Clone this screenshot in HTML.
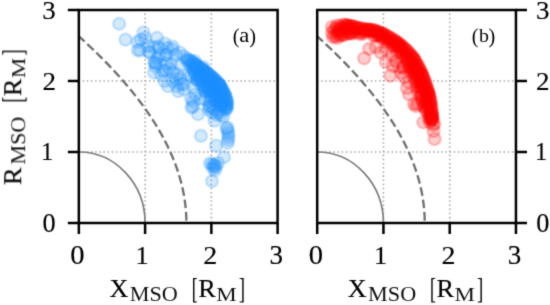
<!DOCTYPE html>
<html><head><meta charset="utf-8"><style>html,body{margin:0;padding:0;background:#fff;width:550px;height:305px;overflow:hidden}svg{display:block}</style></head>
<body><svg width="550" height="305" viewBox="0 0 550 305"><defs><filter id="gb" color-interpolation-filters="sRGB" x="0" y="0" width="550" height="305" filterUnits="userSpaceOnUse"><feConvolveMatrix order="3" kernelMatrix="0.0324 0.1800 0.0324 0.1800 1.0000 0.1800 0.0324 0.1800 0.0324" edgeMode="duplicate"/></filter><clipPath id="clipa"><rect x="78.85" y="10.0" width="198.75" height="213.0"/></clipPath><clipPath id="clipb"><rect x="317.2" y="10.0" width="198.75" height="213.0"/></clipPath></defs><g filter="url(#gb)"><rect x="0" y="0" width="550" height="305" fill="#fff"/><line x1="145.10" y1="223.00" x2="145.10" y2="10.00" stroke="#ababab" stroke-width="1.6" stroke-dasharray="1.57 2.58" stroke-dashoffset="-0.45"/>
<line x1="78.85" y1="152.00" x2="277.60" y2="152.00" stroke="#ababab" stroke-width="1.6" stroke-dasharray="1.57 2.58" stroke-dashoffset="0.4"/>
<line x1="211.35" y1="223.00" x2="211.35" y2="10.00" stroke="#ababab" stroke-width="1.6" stroke-dasharray="1.57 2.58" stroke-dashoffset="-0.45"/>
<line x1="78.85" y1="81.00" x2="277.60" y2="81.00" stroke="#ababab" stroke-width="1.6" stroke-dasharray="1.57 2.58" stroke-dashoffset="0.4"/>
<line x1="383.45" y1="223.00" x2="383.45" y2="10.00" stroke="#ababab" stroke-width="1.6" stroke-dasharray="1.57 2.58" stroke-dashoffset="-0.45"/>
<line x1="317.20" y1="152.00" x2="515.95" y2="152.00" stroke="#ababab" stroke-width="1.6" stroke-dasharray="1.57 2.58" stroke-dashoffset="0.4"/>
<line x1="449.70" y1="223.00" x2="449.70" y2="10.00" stroke="#ababab" stroke-width="1.6" stroke-dasharray="1.57 2.58" stroke-dashoffset="-0.45"/>
<line x1="317.20" y1="81.00" x2="515.95" y2="81.00" stroke="#ababab" stroke-width="1.6" stroke-dasharray="1.57 2.58" stroke-dashoffset="0.4"/>
<g fill="#1e90ff" fill-opacity="0.2" stroke="#1e90ff" stroke-opacity="0.2" stroke-width="2.4" clip-path="url(#clipa)"><circle cx="119.2" cy="23.8" r="6.1"/><circle cx="125.5" cy="39.6" r="6.1"/><circle cx="137.5" cy="42.0" r="6.1"/><circle cx="143.5" cy="32.5" r="6.1"/><circle cx="145.1" cy="38.0" r="6.1"/><circle cx="157.0" cy="37.8" r="6.1"/><circle cx="164.7" cy="43.5" r="6.1"/><circle cx="172.6" cy="46.5" r="6.1"/><circle cx="137.8" cy="50.2" r="6.1"/><circle cx="149.8" cy="52.9" r="6.1"/><circle cx="159.6" cy="48.5" r="6.1"/><circle cx="166.2" cy="55.1" r="6.1"/><circle cx="157.5" cy="58.4" r="6.1"/><circle cx="156.4" cy="63.7" r="6.1"/><circle cx="154.2" cy="72.5" r="6.1"/><circle cx="168.0" cy="86.2" r="6.1"/><circle cx="191.5" cy="107.5" r="6.1"/><circle cx="198.1" cy="114.2" r="6.1"/><circle cx="214.5" cy="120.7" r="6.1"/><circle cx="200.9" cy="135.9" r="6.1"/><circle cx="227.4" cy="127.7" r="6.1"/><circle cx="228.0" cy="131.0" r="6.1"/><circle cx="228.4" cy="134.0" r="6.1"/><circle cx="228.4" cy="137.0" r="6.1"/><circle cx="228.2" cy="140.0" r="6.1"/><circle cx="227.6" cy="143.0" r="6.1"/><circle cx="226.5" cy="128.4" r="6.1"/><circle cx="216.0" cy="145.7" r="6.1"/><circle cx="224.0" cy="157.2" r="6.1"/><circle cx="214.3" cy="165.4" r="6.1"/><circle cx="214.3" cy="165.4" r="6.1"/><circle cx="216.0" cy="167.0" r="6.1"/><circle cx="212.0" cy="164.0" r="6.1"/><circle cx="218.0" cy="163.0" r="6.1"/><circle cx="210.0" cy="163.5" r="6.1"/><circle cx="215.0" cy="170.0" r="6.1"/><circle cx="213.0" cy="168.0" r="6.1"/><circle cx="212.0" cy="181.1" r="6.1"/><circle cx="187.4" cy="61.4" r="6.1"/><circle cx="193.5" cy="64.0" r="6.1"/><circle cx="190.3" cy="65.7" r="6.1"/><circle cx="194.0" cy="67.4" r="6.1"/><circle cx="196.2" cy="66.3" r="6.1"/><circle cx="192.8" cy="69.3" r="6.1"/><circle cx="196.3" cy="67.8" r="6.1"/><circle cx="199.9" cy="69.7" r="6.1"/><circle cx="202.8" cy="69.8" r="6.1"/><circle cx="193.9" cy="70.6" r="6.1"/><circle cx="198.2" cy="72.9" r="6.1"/><circle cx="200.2" cy="71.5" r="6.1"/><circle cx="202.2" cy="70.5" r="6.1"/><circle cx="195.3" cy="73.4" r="6.1"/><circle cx="199.6" cy="75.5" r="6.1"/><circle cx="202.8" cy="75.0" r="6.1"/><circle cx="205.7" cy="74.8" r="6.1"/><circle cx="207.1" cy="74.2" r="6.1"/><circle cx="198.2" cy="76.7" r="6.1"/><circle cx="200.7" cy="77.6" r="6.1"/><circle cx="202.2" cy="77.2" r="6.1"/><circle cx="207.4" cy="77.5" r="6.1"/><circle cx="210.0" cy="76.7" r="6.1"/><circle cx="211.4" cy="77.6" r="6.1"/><circle cx="197.1" cy="79.8" r="6.1"/><circle cx="198.4" cy="79.5" r="6.1"/><circle cx="200.8" cy="78.1" r="6.1"/><circle cx="206.1" cy="79.8" r="6.1"/><circle cx="207.9" cy="80.6" r="6.1"/><circle cx="210.6" cy="80.4" r="6.1"/><circle cx="200.4" cy="80.7" r="6.1"/><circle cx="203.1" cy="81.1" r="6.1"/><circle cx="205.0" cy="82.8" r="6.1"/><circle cx="208.4" cy="81.9" r="6.1"/><circle cx="212.9" cy="82.1" r="6.1"/><circle cx="214.8" cy="82.0" r="6.1"/><circle cx="201.7" cy="84.7" r="6.1"/><circle cx="204.7" cy="85.8" r="6.1"/><circle cx="208.3" cy="85.6" r="6.1"/><circle cx="212.0" cy="83.9" r="6.1"/><circle cx="214.0" cy="85.8" r="6.1"/><circle cx="217.7" cy="83.6" r="6.1"/><circle cx="218.8" cy="84.4" r="6.1"/><circle cx="203.0" cy="87.1" r="6.1"/><circle cx="207.6" cy="88.1" r="6.1"/><circle cx="208.4" cy="87.0" r="6.1"/><circle cx="212.3" cy="86.7" r="6.1"/><circle cx="214.5" cy="86.7" r="6.1"/><circle cx="218.9" cy="85.9" r="6.1"/><circle cx="204.6" cy="90.9" r="6.1"/><circle cx="208.7" cy="89.1" r="6.1"/><circle cx="209.9" cy="90.9" r="6.1"/><circle cx="214.0" cy="90.3" r="6.1"/><circle cx="215.7" cy="88.6" r="6.1"/><circle cx="220.3" cy="89.6" r="6.1"/><circle cx="221.6" cy="91.0" r="6.1"/><circle cx="205.2" cy="91.5" r="6.1"/><circle cx="208.1" cy="91.6" r="6.1"/><circle cx="211.8" cy="91.8" r="6.1"/><circle cx="216.0" cy="91.8" r="6.1"/><circle cx="218.3" cy="91.5" r="6.1"/><circle cx="220.9" cy="91.1" r="6.1"/><circle cx="211.4" cy="95.3" r="6.1"/><circle cx="213.5" cy="94.6" r="6.1"/><circle cx="215.6" cy="94.0" r="6.1"/><circle cx="218.6" cy="95.6" r="6.1"/><circle cx="222.1" cy="94.1" r="6.1"/><circle cx="224.7" cy="95.9" r="6.1"/><circle cx="211.0" cy="97.3" r="6.1"/><circle cx="215.2" cy="97.6" r="6.1"/><circle cx="217.5" cy="97.6" r="6.1"/><circle cx="220.0" cy="96.9" r="6.1"/><circle cx="223.2" cy="97.3" r="6.1"/><circle cx="214.9" cy="100.5" r="6.1"/><circle cx="217.4" cy="101.0" r="6.1"/><circle cx="218.8" cy="100.2" r="6.1"/><circle cx="222.8" cy="101.1" r="6.1"/><circle cx="226.6" cy="101.1" r="6.1"/><circle cx="218.7" cy="101.6" r="6.1"/><circle cx="221.9" cy="102.1" r="6.1"/><circle cx="223.2" cy="102.1" r="6.1"/><circle cx="220.3" cy="104.8" r="6.1"/><circle cx="222.8" cy="105.3" r="6.1"/><circle cx="225.7" cy="104.3" r="6.1"/><circle cx="224.3" cy="106.7" r="6.1"/><circle cx="186.8" cy="58.6" r="6.1"/><circle cx="226.5" cy="108.9" r="6.1"/><circle cx="226.9" cy="107.3" r="6.1"/><circle cx="227.1" cy="105.7" r="6.1"/><circle cx="227.0" cy="104.1" r="6.1"/><circle cx="226.9" cy="102.5" r="6.1"/><circle cx="226.7" cy="100.9" r="6.1"/><circle cx="226.3" cy="99.4" r="6.1"/><circle cx="225.8" cy="97.8" r="6.1"/><circle cx="225.4" cy="96.2" r="6.1"/><circle cx="224.9" cy="94.7" r="6.1"/><circle cx="224.2" cy="93.3" r="6.1"/><circle cx="223.4" cy="91.8" r="6.1"/><circle cx="222.7" cy="90.4" r="6.1"/><circle cx="221.9" cy="89.0" r="6.1"/><circle cx="221.2" cy="87.5" r="6.1"/><circle cx="220.5" cy="86.1" r="6.1"/><circle cx="219.5" cy="84.8" r="6.1"/><circle cx="218.4" cy="83.6" r="6.1"/><circle cx="217.4" cy="82.4" r="6.1"/><circle cx="216.3" cy="81.1" r="6.1"/><circle cx="215.2" cy="79.9" r="6.1"/><circle cx="214.0" cy="78.8" r="6.1"/><circle cx="212.8" cy="77.8" r="6.1"/><circle cx="211.6" cy="76.7" r="6.1"/><circle cx="210.3" cy="75.7" r="6.1"/><circle cx="209.1" cy="74.6" r="6.1"/><circle cx="207.9" cy="73.6" r="6.1"/><circle cx="206.6" cy="72.6" r="6.1"/><circle cx="205.3" cy="71.7" r="6.1"/><circle cx="204.0" cy="70.7" r="6.1"/><circle cx="202.7" cy="69.7" r="6.1"/><circle cx="201.4" cy="68.7" r="6.1"/><circle cx="200.1" cy="67.7" r="6.1"/><circle cx="198.8" cy="66.8" r="6.1"/><circle cx="197.5" cy="65.8" r="6.1"/><circle cx="196.2" cy="64.9" r="6.1"/><circle cx="194.8" cy="64.0" r="6.1"/><circle cx="193.5" cy="63.1" r="6.1"/><circle cx="192.2" cy="62.2" r="6.1"/><circle cx="190.8" cy="61.3" r="6.1"/><circle cx="189.5" cy="60.4" r="6.1"/><circle cx="188.2" cy="59.5" r="6.1"/><circle cx="140.8" cy="39.7" r="6.1"/><circle cx="148.0" cy="45.8" r="6.1"/><circle cx="158.1" cy="46.6" r="6.1"/><circle cx="140.0" cy="50.3" r="6.1"/><circle cx="148.8" cy="51.7" r="6.1"/><circle cx="153.8" cy="47.1" r="6.1"/><circle cx="167.3" cy="47.7" r="6.1"/><circle cx="172.4" cy="49.4" r="6.1"/><circle cx="179.7" cy="52.5" r="6.1"/><circle cx="154.3" cy="61.9" r="6.1"/><circle cx="159.3" cy="55.3" r="6.1"/><circle cx="165.9" cy="54.9" r="6.1"/><circle cx="175.7" cy="54.9" r="6.1"/><circle cx="183.5" cy="56.2" r="6.1"/><circle cx="194.7" cy="61.1" r="6.1"/><circle cx="155.5" cy="66.5" r="6.1"/><circle cx="166.8" cy="63.3" r="6.1"/><circle cx="170.9" cy="63.6" r="6.1"/><circle cx="180.5" cy="65.1" r="6.1"/><circle cx="193.3" cy="68.2" r="6.1"/><circle cx="203.4" cy="67.1" r="6.1"/><circle cx="163.4" cy="71.0" r="6.1"/><circle cx="165.3" cy="70.3" r="6.1"/><circle cx="177.1" cy="74.4" r="6.1"/><circle cx="188.9" cy="74.7" r="6.1"/><circle cx="195.3" cy="75.0" r="6.1"/><circle cx="202.4" cy="73.4" r="6.1"/><circle cx="207.8" cy="75.2" r="6.1"/><circle cx="172.8" cy="81.1" r="6.1"/><circle cx="180.4" cy="78.3" r="6.1"/><circle cx="190.6" cy="76.6" r="6.1"/><circle cx="196.9" cy="80.1" r="6.1"/><circle cx="210.6" cy="81.5" r="6.1"/><circle cx="178.2" cy="91.2" r="6.1"/><circle cx="183.4" cy="84.3" r="6.1"/><circle cx="192.9" cy="87.3" r="6.1"/><circle cx="204.1" cy="85.5" r="6.1"/><circle cx="213.6" cy="89.7" r="6.1"/><circle cx="220.0" cy="85.6" r="6.1"/><circle cx="191.1" cy="98.8" r="6.1"/><circle cx="195.7" cy="94.5" r="6.1"/><circle cx="204.8" cy="99.0" r="6.1"/><circle cx="212.9" cy="91.8" r="6.1"/><circle cx="220.8" cy="94.5" r="6.1"/><circle cx="193.1" cy="101.5" r="6.1"/><circle cx="200.2" cy="98.9" r="6.1"/><circle cx="209.6" cy="101.6" r="6.1"/><circle cx="223.5" cy="99.9" r="6.1"/><circle cx="192.9" cy="106.6" r="6.1"/><circle cx="209.1" cy="106.7" r="6.1"/><circle cx="212.0" cy="106.8" r="6.1"/><circle cx="155.0" cy="63.1" r="6.1"/><circle cx="169.1" cy="68.4" r="6.1"/><circle cx="161.1" cy="74.7" r="6.1"/><circle cx="173.4" cy="72.3" r="6.1"/><circle cx="164.5" cy="81.1" r="6.1"/><circle cx="176.5" cy="78.9" r="6.1"/><circle cx="180.6" cy="84.1" r="6.1"/><circle cx="176.8" cy="86.3" r="6.1"/><circle cx="184.1" cy="89.5" r="6.1"/><circle cx="209.7" cy="105.9" r="6.1"/><circle cx="213.9" cy="108.9" r="6.1"/><circle cx="219.4" cy="105.5" r="6.1"/><circle cx="225.8" cy="107.4" r="6.1"/><circle cx="209.1" cy="109.3" r="6.1"/><circle cx="211.8" cy="112.5" r="6.1"/><circle cx="218.4" cy="112.9" r="6.1"/><circle cx="219.8" cy="110.1" r="6.1"/><circle cx="225.2" cy="109.7" r="6.1"/><circle cx="216.3" cy="114.8" r="6.1"/><circle cx="221.0" cy="115.2" r="6.1"/><circle cx="223.3" cy="116.6" r="6.1"/></g>
<g fill="#ff0000" fill-opacity="0.2" stroke="#ff0000" stroke-opacity="0.2" stroke-width="2.4" clip-path="url(#clipb)"><circle cx="364.2" cy="58.3" r="6.1"/><circle cx="369.3" cy="48.8" r="6.1"/><circle cx="380.9" cy="52.5" r="6.1"/><circle cx="390.4" cy="75.6" r="6.1"/><circle cx="386.0" cy="62.0" r="6.1"/><circle cx="402.9" cy="68.0" r="6.1"/><circle cx="403.3" cy="66.6" r="6.1"/><circle cx="408.4" cy="81.9" r="6.1"/><circle cx="409.1" cy="94.3" r="6.1"/><circle cx="386.0" cy="49.0" r="6.1"/><circle cx="392.0" cy="55.0" r="6.1"/><circle cx="396.0" cy="61.0" r="6.1"/><circle cx="399.0" cy="67.0" r="6.1"/><circle cx="401.0" cy="73.0" r="6.1"/><circle cx="393.0" cy="66.0" r="6.1"/><circle cx="376.0" cy="47.0" r="6.1"/><circle cx="397.0" cy="53.0" r="6.1"/><circle cx="404.0" cy="77.0" r="6.1"/><circle cx="407.0" cy="88.0" r="6.1"/><circle cx="423.4" cy="122.3" r="6.1"/><circle cx="433.5" cy="131.0" r="6.1"/><circle cx="434.6" cy="139.0" r="6.1"/><circle cx="434.3" cy="123.7" r="6.1"/><circle cx="431.0" cy="117.0" r="6.1"/><circle cx="432.0" cy="120.0" r="6.1"/><circle cx="430.0" cy="122.0" r="6.1"/><circle cx="433.0" cy="125.0" r="6.1"/><circle cx="431.0" cy="119.0" r="6.1"/><circle cx="432.0" cy="116.0" r="6.1"/><circle cx="429.0" cy="119.0" r="6.1"/><circle cx="414.0" cy="104.0" r="6.1"/><circle cx="416.0" cy="106.0" r="6.1"/><circle cx="418.0" cy="104.0" r="6.1"/><circle cx="332.0" cy="33.0" r="6.1"/><circle cx="333.0" cy="37.0" r="6.1"/><circle cx="335.0" cy="36.0" r="6.1"/><circle cx="332.0" cy="27.0" r="6.1"/><circle cx="334.0" cy="30.0" r="6.1"/><circle cx="337.0" cy="38.0" r="6.1"/><circle cx="340.0" cy="36.0" r="6.1"/><circle cx="344.0" cy="35.0" r="6.1"/><circle cx="337.0" cy="25.6" r="6.1"/><circle cx="339.9" cy="25.8" r="6.1"/><circle cx="341.9" cy="27.5" r="6.1"/><circle cx="346.1" cy="25.7" r="6.1"/><circle cx="347.4" cy="26.3" r="6.1"/><circle cx="351.2" cy="26.2" r="6.1"/><circle cx="335.8" cy="28.2" r="6.1"/><circle cx="338.4" cy="30.3" r="6.1"/><circle cx="339.5" cy="28.7" r="6.1"/><circle cx="344.4" cy="28.2" r="6.1"/><circle cx="347.7" cy="28.5" r="6.1"/><circle cx="350.5" cy="28.2" r="6.1"/><circle cx="352.7" cy="30.3" r="6.1"/><circle cx="354.9" cy="28.5" r="6.1"/><circle cx="358.7" cy="28.6" r="6.1"/><circle cx="363.8" cy="30.3" r="6.1"/><circle cx="368.2" cy="30.2" r="6.1"/><circle cx="369.8" cy="29.9" r="6.1"/><circle cx="338.1" cy="31.3" r="6.1"/><circle cx="341.4" cy="32.0" r="6.1"/><circle cx="345.4" cy="30.9" r="6.1"/><circle cx="348.5" cy="31.7" r="6.1"/><circle cx="350.2" cy="32.9" r="6.1"/><circle cx="353.5" cy="30.8" r="6.1"/><circle cx="356.1" cy="32.1" r="6.1"/><circle cx="361.2" cy="32.5" r="6.1"/><circle cx="362.9" cy="31.1" r="6.1"/><circle cx="364.8" cy="32.1" r="6.1"/><circle cx="369.3" cy="31.3" r="6.1"/><circle cx="372.6" cy="31.6" r="6.1"/><circle cx="376.3" cy="32.4" r="6.1"/><circle cx="377.5" cy="32.8" r="6.1"/><circle cx="337.8" cy="34.2" r="6.1"/><circle cx="341.4" cy="34.4" r="6.1"/><circle cx="343.0" cy="34.7" r="6.1"/><circle cx="347.9" cy="33.6" r="6.1"/><circle cx="350.7" cy="33.0" r="6.1"/><circle cx="352.0" cy="33.6" r="6.1"/><circle cx="359.3" cy="33.9" r="6.1"/><circle cx="362.7" cy="33.9" r="6.1"/><circle cx="373.6" cy="35.2" r="6.1"/><circle cx="377.2" cy="35.3" r="6.1"/><circle cx="379.5" cy="34.9" r="6.1"/><circle cx="382.9" cy="33.8" r="6.1"/><circle cx="375.3" cy="36.2" r="6.1"/><circle cx="379.1" cy="35.8" r="6.1"/><circle cx="382.0" cy="36.0" r="6.1"/><circle cx="382.8" cy="36.1" r="6.1"/><circle cx="387.9" cy="38.2" r="6.1"/><circle cx="382.7" cy="38.6" r="6.1"/><circle cx="385.2" cy="38.7" r="6.1"/><circle cx="390.0" cy="40.1" r="6.1"/><circle cx="390.6" cy="40.8" r="6.1"/><circle cx="388.4" cy="42.2" r="6.1"/><circle cx="389.1" cy="42.3" r="6.1"/><circle cx="393.3" cy="42.7" r="6.1"/><circle cx="396.2" cy="42.5" r="6.1"/><circle cx="392.8" cy="45.7" r="6.1"/><circle cx="393.5" cy="45.6" r="6.1"/><circle cx="398.8" cy="45.5" r="6.1"/><circle cx="399.7" cy="45.6" r="6.1"/><circle cx="397.2" cy="46.1" r="6.1"/><circle cx="399.8" cy="47.7" r="6.1"/><circle cx="401.7" cy="48.3" r="6.1"/><circle cx="399.5" cy="50.1" r="6.1"/><circle cx="402.4" cy="48.9" r="6.1"/><circle cx="399.5" cy="52.3" r="6.1"/><circle cx="401.9" cy="53.3" r="6.1"/><circle cx="406.4" cy="53.3" r="6.1"/><circle cx="402.8" cy="55.7" r="6.1"/><circle cx="406.3" cy="55.3" r="6.1"/><circle cx="409.4" cy="55.2" r="6.1"/><circle cx="405.6" cy="59.0" r="6.1"/><circle cx="407.0" cy="56.7" r="6.1"/><circle cx="411.9" cy="58.9" r="6.1"/><circle cx="408.0" cy="61.5" r="6.1"/><circle cx="408.6" cy="59.7" r="6.1"/><circle cx="413.7" cy="59.1" r="6.1"/><circle cx="407.7" cy="63.5" r="6.1"/><circle cx="410.8" cy="63.6" r="6.1"/><circle cx="413.0" cy="63.9" r="6.1"/><circle cx="410.0" cy="65.1" r="6.1"/><circle cx="412.8" cy="64.3" r="6.1"/><circle cx="415.5" cy="65.5" r="6.1"/><circle cx="409.1" cy="67.4" r="6.1"/><circle cx="411.3" cy="68.1" r="6.1"/><circle cx="413.6" cy="69.4" r="6.1"/><circle cx="416.6" cy="68.8" r="6.1"/><circle cx="410.6" cy="71.6" r="6.1"/><circle cx="413.9" cy="69.9" r="6.1"/><circle cx="415.5" cy="71.8" r="6.1"/><circle cx="417.3" cy="69.5" r="6.1"/><circle cx="415.1" cy="73.5" r="6.1"/><circle cx="417.6" cy="72.5" r="6.1"/><circle cx="420.2" cy="73.4" r="6.1"/><circle cx="413.9" cy="75.3" r="6.1"/><circle cx="415.8" cy="74.9" r="6.1"/><circle cx="418.8" cy="75.6" r="6.1"/><circle cx="421.4" cy="74.7" r="6.1"/><circle cx="413.6" cy="77.3" r="6.1"/><circle cx="416.7" cy="77.8" r="6.1"/><circle cx="419.2" cy="79.1" r="6.1"/><circle cx="422.6" cy="78.2" r="6.1"/><circle cx="416.9" cy="80.9" r="6.1"/><circle cx="419.8" cy="81.6" r="6.1"/><circle cx="422.3" cy="82.0" r="6.1"/><circle cx="416.0" cy="82.4" r="6.1"/><circle cx="421.5" cy="84.4" r="6.1"/><circle cx="422.0" cy="84.3" r="6.1"/><circle cx="416.6" cy="87.2" r="6.1"/><circle cx="419.4" cy="86.1" r="6.1"/><circle cx="421.1" cy="86.7" r="6.1"/><circle cx="424.7" cy="86.1" r="6.1"/><circle cx="420.4" cy="87.7" r="6.1"/><circle cx="422.9" cy="87.7" r="6.1"/><circle cx="426.0" cy="89.9" r="6.1"/><circle cx="418.1" cy="92.0" r="6.1"/><circle cx="421.3" cy="90.5" r="6.1"/><circle cx="425.7" cy="91.6" r="6.1"/><circle cx="428.2" cy="92.3" r="6.1"/><circle cx="421.4" cy="94.6" r="6.1"/><circle cx="422.6" cy="94.8" r="6.1"/><circle cx="426.8" cy="94.1" r="6.1"/><circle cx="420.8" cy="96.8" r="6.1"/><circle cx="425.7" cy="97.1" r="6.1"/><circle cx="428.8" cy="95.9" r="6.1"/><circle cx="422.0" cy="99.3" r="6.1"/><circle cx="426.3" cy="98.4" r="6.1"/><circle cx="422.6" cy="101.0" r="6.1"/><circle cx="425.7" cy="103.2" r="6.1"/><circle cx="427.1" cy="100.6" r="6.1"/><circle cx="429.6" cy="103.2" r="6.1"/><circle cx="423.7" cy="105.8" r="6.1"/><circle cx="427.2" cy="105.1" r="6.1"/><circle cx="428.9" cy="104.0" r="6.1"/><circle cx="424.6" cy="107.4" r="6.1"/><circle cx="428.6" cy="108.1" r="6.1"/><circle cx="425.8" cy="110.1" r="6.1"/><circle cx="428.7" cy="108.5" r="6.1"/><circle cx="426.9" cy="111.1" r="6.1"/><circle cx="430.8" cy="111.9" r="6.1"/><circle cx="429.3" cy="113.9" r="6.1"/><circle cx="429.7" cy="117.7" r="6.1"/><circle cx="431.9" cy="119.4" r="6.1"/><circle cx="432.5" cy="119.0" r="6.1"/><circle cx="432.3" cy="117.2" r="6.1"/><circle cx="432.1" cy="115.4" r="6.1"/><circle cx="431.9" cy="113.6" r="6.1"/><circle cx="431.7" cy="111.8" r="6.1"/><circle cx="431.5" cy="110.0" r="6.1"/><circle cx="431.3" cy="108.2" r="6.1"/><circle cx="431.1" cy="106.4" r="6.1"/><circle cx="430.9" cy="104.6" r="6.1"/><circle cx="430.6" cy="102.8" r="6.1"/><circle cx="430.4" cy="101.0" r="6.1"/><circle cx="430.1" cy="99.3" r="6.1"/><circle cx="429.7" cy="97.5" r="6.1"/><circle cx="429.2" cy="95.8" r="6.1"/><circle cx="428.7" cy="94.0" r="6.1"/><circle cx="428.2" cy="92.3" r="6.1"/><circle cx="427.7" cy="90.6" r="6.1"/><circle cx="427.2" cy="88.8" r="6.1"/><circle cx="426.7" cy="87.1" r="6.1"/><circle cx="426.1" cy="85.4" r="6.1"/><circle cx="425.5" cy="83.7" r="6.1"/><circle cx="425.0" cy="82.0" r="6.1"/><circle cx="424.4" cy="80.3" r="6.1"/><circle cx="423.7" cy="78.6" r="6.1"/><circle cx="423.0" cy="76.9" r="6.1"/><circle cx="422.4" cy="75.2" r="6.1"/><circle cx="421.7" cy="73.6" r="6.1"/><circle cx="420.9" cy="71.9" r="6.1"/><circle cx="420.1" cy="70.3" r="6.1"/><circle cx="419.4" cy="68.7" r="6.1"/><circle cx="418.6" cy="67.0" r="6.1"/><circle cx="417.7" cy="65.5" r="6.1"/><circle cx="416.8" cy="63.9" r="6.1"/><circle cx="415.9" cy="62.3" r="6.1"/><circle cx="415.0" cy="60.8" r="6.1"/><circle cx="414.1" cy="59.2" r="6.1"/><circle cx="413.2" cy="57.7" r="6.1"/><circle cx="412.0" cy="56.3" r="6.1"/><circle cx="410.8" cy="55.0" r="6.1"/><circle cx="409.6" cy="53.6" r="6.1"/><circle cx="408.4" cy="52.3" r="6.1"/><circle cx="407.2" cy="50.9" r="6.1"/><circle cx="405.9" cy="49.7" r="6.1"/><circle cx="404.5" cy="48.5" r="6.1"/><circle cx="403.2" cy="47.3" r="6.1"/><circle cx="401.9" cy="46.0" r="6.1"/><circle cx="400.5" cy="44.8" r="6.1"/><circle cx="399.1" cy="43.7" r="6.1"/><circle cx="397.6" cy="42.7" r="6.1"/><circle cx="396.2" cy="41.6" r="6.1"/><circle cx="394.7" cy="40.6" r="6.1"/><circle cx="393.2" cy="39.6" r="6.1"/><circle cx="391.6" cy="38.7" r="6.1"/><circle cx="390.1" cy="37.7" r="6.1"/><circle cx="388.5" cy="36.8" r="6.1"/><circle cx="386.9" cy="36.0" r="6.1"/><circle cx="385.4" cy="35.1" r="6.1"/><circle cx="383.8" cy="34.2" r="6.1"/><circle cx="382.1" cy="33.5" r="6.1"/><circle cx="380.5" cy="32.8" r="6.1"/><circle cx="378.8" cy="32.1" r="6.1"/><circle cx="377.1" cy="31.4" r="6.1"/><circle cx="375.5" cy="30.7" r="6.1"/><circle cx="373.8" cy="30.1" r="6.1"/><circle cx="372.0" cy="29.9" r="6.1"/><circle cx="370.2" cy="29.7" r="6.1"/><circle cx="368.4" cy="29.5" r="6.1"/><circle cx="366.6" cy="29.3" r="6.1"/><circle cx="364.8" cy="29.1" r="6.1"/><circle cx="363.0" cy="28.9" r="6.1"/><circle cx="361.2" cy="28.6" r="6.1"/><circle cx="359.5" cy="28.2" r="6.1"/><circle cx="357.7" cy="27.7" r="6.1"/><circle cx="356.0" cy="27.3" r="6.1"/><circle cx="354.2" cy="26.8" r="6.1"/><circle cx="352.5" cy="26.4" r="6.1"/><circle cx="350.7" cy="26.0" r="6.1"/><circle cx="349.0" cy="25.7" r="6.1"/><circle cx="347.2" cy="25.3" r="6.1"/><circle cx="345.4" cy="24.9" r="6.1"/><circle cx="343.6" cy="24.7" r="6.1"/></g>
<path d="M78.85,152.00 A66.25,71.00 0 0 1 145.10,223.00" fill="none" stroke="#7e7e7e" stroke-width="1.7"/>
<path d="M186.38,223.00 L186.38,222.38 L186.38,221.76 L186.37,221.14 L186.36,220.52 L186.35,219.90 L186.34,219.28 L186.32,218.66 L186.30,218.04 L186.28,217.41 L186.26,216.79 L186.23,216.17 L186.20,215.55 L186.17,214.93 L186.14,214.30 L186.10,213.68 L186.06,213.06 L186.02,212.43 L185.98,211.81 L185.93,211.18 L185.89,210.56 L185.83,209.93 L185.78,209.31 L185.72,208.68 L185.67,208.05 L185.60,207.43 L185.54,206.80 L185.47,206.17 L185.40,205.54 L185.33,204.91 L185.26,204.28 L185.18,203.64 L185.10,203.01 L185.02,202.38 L184.93,201.74 L184.85,201.11 L184.76,200.47 L184.66,199.83 L184.57,199.19 L184.47,198.55 L184.37,197.91 L184.26,197.27 L184.15,196.63 L184.04,195.99 L183.93,195.34 L183.82,194.69 L183.70,194.05 L183.58,193.40 L183.45,192.75 L183.32,192.10 L183.19,191.45 L183.06,190.79 L182.92,190.14 L182.78,189.48 L182.64,188.82 L182.50,188.16 L182.35,187.50 L182.20,186.84 L182.04,186.17 L181.88,185.51 L181.72,184.84 L181.56,184.17 L181.39,183.50 L181.22,182.83 L181.04,182.15 L180.87,181.48 L180.69,180.80 L180.50,180.12 L180.31,179.44 L180.12,178.76 L179.93,178.07 L179.73,177.38 L179.53,176.69 L179.32,176.00 L179.11,175.31 L178.90,174.61 L178.68,173.91 L178.46,173.21 L178.23,172.51 L178.01,171.80 L177.77,171.09 L177.54,170.38 L177.30,169.67 L177.05,168.95 L176.80,168.24 L176.55,167.52 L176.29,166.79 L176.03,166.07 L175.77,165.34 L175.50,164.61 L175.22,163.87 L174.94,163.14 L174.66,162.40 L174.37,161.65 L174.08,160.91 L173.78,160.16 L173.48,159.41 L173.17,158.65 L172.86,157.89 L172.55,157.13 L172.22,156.37 L171.90,155.60 L171.56,154.83 L171.23,154.05 L170.89,153.27 L170.54,152.49 L170.18,151.70 L169.83,150.91 L169.46,150.12 L169.09,149.32 L168.71,148.52 L168.33,147.71 L167.95,146.90 L167.55,146.09 L167.15,145.27 L166.75,144.45 L166.33,143.62 L165.91,142.79 L165.49,141.96 L165.06,141.12 L164.62,140.27 L164.17,139.42 L163.72,138.57 L163.26,137.71 L162.79,136.85 L162.32,135.98 L161.84,135.11 L161.35,134.23 L160.85,133.34 L160.35,132.45 L159.84,131.56 L159.32,130.66 L158.79,129.75 L158.25,128.84 L157.71,127.93 L157.15,127.00 L156.59,126.07 L156.02,125.14 L155.44,124.20 L154.85,123.25 L154.25,122.30 L153.64,121.34 L153.03,120.37 L152.40,119.40 L151.76,118.42 L151.11,117.43 L150.45,116.44 L149.78,115.44 L149.10,114.43 L148.41,113.41 L147.71,112.39 L146.99,111.36 L146.27,110.32 L145.53,109.27 L144.78,108.22 L144.02,107.15 L143.24,106.08 L142.45,105.00 L141.65,103.91 L140.84,102.82 L140.01,101.71 L139.16,100.59 L138.31,99.47 L137.44,98.34 L136.55,97.19 L135.65,96.04 L134.73,94.88 L133.80,93.70 L132.85,92.52 L131.88,91.32 L130.90,90.12 L129.90,88.90 L128.88,87.68 L127.85,86.44 L126.79,85.19 L125.72,83.92 L124.62,82.65 L123.51,81.36 L122.38,80.07 L121.23,78.75 L120.05,77.43 L118.86,76.09 L117.64,74.74 L116.40,73.38 L115.13,72.00 L113.84,70.60 L112.53,69.19 L111.19,67.77 L109.83,66.33 L108.44,64.88 L107.02,63.41 L105.58,61.92 L104.11,60.42 L102.61,58.90 L101.07,57.36 L99.51,55.81 L97.92,54.24 L96.29,52.64 L94.64,51.03 L92.95,49.40 L91.22,47.75 L89.46,46.09 L87.66,44.39 L85.82,42.68 L83.94,40.95 L82.03,39.19 L80.07,37.42 L78.07,35.62 L76.03,33.79 L73.95,31.94" fill="none" stroke="#717171" stroke-width="2.35" stroke-dasharray="8.7 3.757" stroke-dashoffset="10.067" clip-path="url(#clipa)"/>
<path d="M317.20,152.00 A66.25,71.00 0 0 1 383.45,223.00" fill="none" stroke="#7e7e7e" stroke-width="1.7"/>
<path d="M424.73,223.00 L424.73,222.38 L424.73,221.76 L424.72,221.14 L424.71,220.52 L424.70,219.90 L424.69,219.28 L424.67,218.66 L424.65,218.04 L424.63,217.41 L424.61,216.79 L424.58,216.17 L424.55,215.55 L424.52,214.93 L424.49,214.30 L424.45,213.68 L424.41,213.06 L424.37,212.43 L424.33,211.81 L424.28,211.18 L424.24,210.56 L424.18,209.93 L424.13,209.31 L424.07,208.68 L424.02,208.05 L423.95,207.43 L423.89,206.80 L423.82,206.17 L423.75,205.54 L423.68,204.91 L423.61,204.28 L423.53,203.64 L423.45,203.01 L423.37,202.38 L423.28,201.74 L423.20,201.11 L423.11,200.47 L423.01,199.83 L422.92,199.19 L422.82,198.55 L422.72,197.91 L422.61,197.27 L422.50,196.63 L422.39,195.99 L422.28,195.34 L422.17,194.69 L422.05,194.05 L421.93,193.40 L421.80,192.75 L421.67,192.10 L421.54,191.45 L421.41,190.79 L421.27,190.14 L421.13,189.48 L420.99,188.82 L420.85,188.16 L420.70,187.50 L420.55,186.84 L420.39,186.17 L420.23,185.51 L420.07,184.84 L419.91,184.17 L419.74,183.50 L419.57,182.83 L419.39,182.15 L419.22,181.48 L419.04,180.80 L418.85,180.12 L418.66,179.44 L418.47,178.76 L418.28,178.07 L418.08,177.38 L417.88,176.69 L417.67,176.00 L417.46,175.31 L417.25,174.61 L417.03,173.91 L416.81,173.21 L416.58,172.51 L416.36,171.80 L416.12,171.09 L415.89,170.38 L415.65,169.67 L415.40,168.95 L415.15,168.24 L414.90,167.52 L414.64,166.79 L414.38,166.07 L414.12,165.34 L413.85,164.61 L413.57,163.87 L413.29,163.14 L413.01,162.40 L412.72,161.65 L412.43,160.91 L412.13,160.16 L411.83,159.41 L411.52,158.65 L411.21,157.89 L410.90,157.13 L410.57,156.37 L410.25,155.60 L409.91,154.83 L409.58,154.05 L409.24,153.27 L408.89,152.49 L408.53,151.70 L408.18,150.91 L407.81,150.12 L407.44,149.32 L407.06,148.52 L406.68,147.71 L406.30,146.90 L405.90,146.09 L405.50,145.27 L405.10,144.45 L404.68,143.62 L404.26,142.79 L403.84,141.96 L403.41,141.12 L402.97,140.27 L402.52,139.42 L402.07,138.57 L401.61,137.71 L401.14,136.85 L400.67,135.98 L400.19,135.11 L399.70,134.23 L399.20,133.34 L398.70,132.45 L398.19,131.56 L397.67,130.66 L397.14,129.75 L396.60,128.84 L396.06,127.93 L395.50,127.00 L394.94,126.07 L394.37,125.14 L393.79,124.20 L393.20,123.25 L392.60,122.30 L391.99,121.34 L391.38,120.37 L390.75,119.40 L390.11,118.42 L389.46,117.43 L388.80,116.44 L388.13,115.44 L387.45,114.43 L386.76,113.41 L386.06,112.39 L385.34,111.36 L384.62,110.32 L383.88,109.27 L383.13,108.22 L382.37,107.15 L381.59,106.08 L380.80,105.00 L380.00,103.91 L379.19,102.82 L378.36,101.71 L377.51,100.59 L376.66,99.47 L375.79,98.34 L374.90,97.19 L374.00,96.04 L373.08,94.88 L372.15,93.70 L371.20,92.52 L370.23,91.32 L369.25,90.12 L368.25,88.90 L367.23,87.68 L366.20,86.44 L365.14,85.19 L364.07,83.92 L362.97,82.65 L361.86,81.36 L360.73,80.07 L359.58,78.75 L358.40,77.43 L357.21,76.09 L355.99,74.74 L354.75,73.38 L353.48,72.00 L352.19,70.60 L350.88,69.19 L349.54,67.77 L348.18,66.33 L346.79,64.88 L345.37,63.41 L343.93,61.92 L342.46,60.42 L340.96,58.90 L339.42,57.36 L337.86,55.81 L336.27,54.24 L334.64,52.64 L332.99,51.03 L331.30,49.40 L329.57,47.75 L327.81,46.09 L326.01,44.39 L324.17,42.68 L322.29,40.95 L320.38,39.19 L318.42,37.42 L316.42,35.62 L314.38,33.79 L312.30,31.94" fill="none" stroke="#717171" stroke-width="2.35" stroke-dasharray="8.7 3.757" stroke-dashoffset="10.067" clip-path="url(#clipb)"/>
<rect x="78.85" y="10.00" width="198.75" height="213.00" fill="none" stroke="#000" stroke-width="2.5"/>
<line x1="78.85" y1="223.00" x2="78.85" y2="234.00" stroke="#000" stroke-width="2.5"/>
<line x1="145.10" y1="223.00" x2="145.10" y2="234.00" stroke="#000" stroke-width="2.5"/>
<line x1="211.35" y1="223.00" x2="211.35" y2="234.00" stroke="#000" stroke-width="2.5"/>
<line x1="277.60" y1="223.00" x2="277.60" y2="234.00" stroke="#000" stroke-width="2.5"/>
<line x1="67.85" y1="223.00" x2="78.85" y2="223.00" stroke="#000" stroke-width="2.5"/>
<line x1="67.85" y1="152.00" x2="78.85" y2="152.00" stroke="#000" stroke-width="2.5"/>
<line x1="67.85" y1="81.00" x2="78.85" y2="81.00" stroke="#000" stroke-width="2.5"/>
<line x1="67.85" y1="10.00" x2="78.85" y2="10.00" stroke="#000" stroke-width="2.5"/>
<text transform="matrix(0.28610,0,0,0.26437,70.347,263.862)" font-family="&quot;Liberation Serif&quot;, serif" font-size="100" fill="#000" stroke="#000" stroke-width="0.6" style="font-kerning:none" >0</text>
<text transform="matrix(0.26246,0,0,0.25818,135.573,263.722)" font-family="&quot;Liberation Serif&quot;, serif" font-size="100" fill="#000" stroke="#000" stroke-width="0.6" style="font-kerning:none" >1</text>
<text transform="matrix(0.28012,0,0,0.25892,203.154,263.822)" font-family="&quot;Liberation Serif&quot;, serif" font-size="100" fill="#000" stroke="#000" stroke-width="0.6" style="font-kerning:none" >2</text>
<text transform="matrix(0.26958,0,0,0.26551,269.392,263.860)" font-family="&quot;Liberation Serif&quot;, serif" font-size="100" fill="#000" stroke="#000" stroke-width="0.6" style="font-kerning:none" >3</text>
<text transform="matrix(0.26284,0,0,0.26290,42.479,231.814)" font-family="&quot;Liberation Serif&quot;, serif" font-size="100" fill="#000" stroke="#000" stroke-width="0.6" style="font-kerning:none" >0</text>
<text transform="matrix(0.24570,0,0,0.24467,41.115,160.376)" font-family="&quot;Liberation Serif&quot;, serif" font-size="100" fill="#000" stroke="#000" stroke-width="0.6" style="font-kerning:none" >1</text>
<text transform="matrix(0.27029,0,0,0.24844,42.595,89.525)" font-family="&quot;Liberation Serif&quot;, serif" font-size="100" fill="#000" stroke="#000" stroke-width="0.6" style="font-kerning:none" >2</text>
<text transform="matrix(0.26958,0,0,0.26109,42.192,18.616)" font-family="&quot;Liberation Serif&quot;, serif" font-size="100" fill="#000" stroke="#000" stroke-width="0.6" style="font-kerning:none" >3</text>
<g transform="translate(0.00,0)"><text transform="matrix(0.26156,0,0,0.26027,109.404,297.321)" font-family="&quot;Liberation Serif&quot;, serif" font-size="100" fill="#000" stroke="#000" stroke-width="0.6" style="font-kerning:none" >X</text><text transform="matrix(0.22215,0,0,0.19944,129.760,301.405)" font-family="&quot;Liberation Serif&quot;, serif" font-size="100" fill="#111" stroke="#111" stroke-width="0" style="font-kerning:none" >MSO</text><text transform="matrix(0.17481,0,0,0.29988,191.656,298.397)" font-family="&quot;Liberation Serif&quot;, serif" font-size="100" fill="#000" stroke="#000" stroke-width="0.6" style="font-kerning:none" >[</text><text transform="matrix(0.26292,0,0,0.26179,198.222,297.421)" font-family="&quot;Liberation Serif&quot;, serif" font-size="100" fill="#000" stroke="#000" stroke-width="0.6" style="font-kerning:none" >R</text><text transform="matrix(0.22983,0,0,0.19090,216.238,300.900)" font-family="&quot;Liberation Serif&quot;, serif" font-size="100" fill="#111" stroke="#111" stroke-width="0" style="font-kerning:none" >M</text><text transform="matrix(0.17918,0,0,0.29988,238.908,298.397)" font-family="&quot;Liberation Serif&quot;, serif" font-size="100" fill="#000" stroke="#000" stroke-width="0.6" style="font-kerning:none" >]</text></g>
<text transform="matrix(0.20246,0,0,0.21175,232.810,42.692)" font-family="&quot;Liberation Serif&quot;, serif" font-size="100" fill="#000" stroke="#000" stroke-width="0" style="font-kerning:none" >(</text>
<text transform="matrix(0.22531,0,0,0.20042,239.308,41.604)" font-family="&quot;Liberation Serif&quot;, serif" font-size="100" fill="#000" stroke="#000" stroke-width="0" style="font-kerning:none" >a</text>
<text transform="matrix(0.20246,0,0,0.21175,249.348,42.692)" font-family="&quot;Liberation Serif&quot;, serif" font-size="100" fill="#000" stroke="#000" stroke-width="0" style="font-kerning:none" >)</text>
<rect x="317.20" y="10.00" width="198.75" height="213.00" fill="none" stroke="#000" stroke-width="2.5"/>
<line x1="317.20" y1="223.00" x2="317.20" y2="234.00" stroke="#000" stroke-width="2.5"/>
<line x1="383.45" y1="223.00" x2="383.45" y2="234.00" stroke="#000" stroke-width="2.5"/>
<line x1="449.70" y1="223.00" x2="449.70" y2="234.00" stroke="#000" stroke-width="2.5"/>
<line x1="515.95" y1="223.00" x2="515.95" y2="234.00" stroke="#000" stroke-width="2.5"/>
<line x1="515.95" y1="223.00" x2="526.95" y2="223.00" stroke="#000" stroke-width="2.5"/>
<line x1="515.95" y1="152.00" x2="526.95" y2="152.00" stroke="#000" stroke-width="2.5"/>
<line x1="515.95" y1="81.00" x2="526.95" y2="81.00" stroke="#000" stroke-width="2.5"/>
<line x1="515.95" y1="10.00" x2="526.95" y2="10.00" stroke="#000" stroke-width="2.5"/>
<text transform="matrix(0.28610,0,0,0.26437,308.697,263.862)" font-family="&quot;Liberation Serif&quot;, serif" font-size="100" fill="#000" stroke="#000" stroke-width="0.6" style="font-kerning:none" >0</text>
<text transform="matrix(0.26246,0,0,0.25818,373.923,263.722)" font-family="&quot;Liberation Serif&quot;, serif" font-size="100" fill="#000" stroke="#000" stroke-width="0.6" style="font-kerning:none" >1</text>
<text transform="matrix(0.28012,0,0,0.25892,441.504,263.822)" font-family="&quot;Liberation Serif&quot;, serif" font-size="100" fill="#000" stroke="#000" stroke-width="0.6" style="font-kerning:none" >2</text>
<text transform="matrix(0.26958,0,0,0.26551,507.742,263.860)" font-family="&quot;Liberation Serif&quot;, serif" font-size="100" fill="#000" stroke="#000" stroke-width="0.6" style="font-kerning:none" >3</text>
<text transform="matrix(0.26284,0,0,0.26290,536.279,231.814)" font-family="&quot;Liberation Serif&quot;, serif" font-size="100" fill="#000" stroke="#000" stroke-width="0.6" style="font-kerning:none" >0</text>
<text transform="matrix(0.24570,0,0,0.24467,534.915,160.376)" font-family="&quot;Liberation Serif&quot;, serif" font-size="100" fill="#000" stroke="#000" stroke-width="0.6" style="font-kerning:none" >1</text>
<text transform="matrix(0.27029,0,0,0.24844,536.095,89.525)" font-family="&quot;Liberation Serif&quot;, serif" font-size="100" fill="#000" stroke="#000" stroke-width="0.6" style="font-kerning:none" >2</text>
<text transform="matrix(0.26958,0,0,0.26109,535.992,18.616)" font-family="&quot;Liberation Serif&quot;, serif" font-size="100" fill="#000" stroke="#000" stroke-width="0.6" style="font-kerning:none" >3</text>
<g transform="translate(238.35,0)"><text transform="matrix(0.26156,0,0,0.26027,109.404,297.321)" font-family="&quot;Liberation Serif&quot;, serif" font-size="100" fill="#000" stroke="#000" stroke-width="0.6" style="font-kerning:none" >X</text><text transform="matrix(0.22215,0,0,0.19944,129.760,301.405)" font-family="&quot;Liberation Serif&quot;, serif" font-size="100" fill="#111" stroke="#111" stroke-width="0" style="font-kerning:none" >MSO</text><text transform="matrix(0.17481,0,0,0.29988,191.656,298.397)" font-family="&quot;Liberation Serif&quot;, serif" font-size="100" fill="#000" stroke="#000" stroke-width="0.6" style="font-kerning:none" >[</text><text transform="matrix(0.26292,0,0,0.26179,198.222,297.421)" font-family="&quot;Liberation Serif&quot;, serif" font-size="100" fill="#000" stroke="#000" stroke-width="0.6" style="font-kerning:none" >R</text><text transform="matrix(0.22983,0,0,0.19090,216.238,300.900)" font-family="&quot;Liberation Serif&quot;, serif" font-size="100" fill="#111" stroke="#111" stroke-width="0" style="font-kerning:none" >M</text><text transform="matrix(0.17918,0,0,0.29988,238.908,298.397)" font-family="&quot;Liberation Serif&quot;, serif" font-size="100" fill="#000" stroke="#000" stroke-width="0.6" style="font-kerning:none" >]</text></g>
<text transform="matrix(0.20246,0,0,0.21175,471.710,42.692)" font-family="&quot;Liberation Serif&quot;, serif" font-size="100" fill="#000" stroke="#000" stroke-width="0" style="font-kerning:none" >(</text>
<text transform="matrix(0.19917,0,0,0.19471,479.000,41.910)" font-family="&quot;Liberation Serif&quot;, serif" font-size="100" fill="#000" stroke="#000" stroke-width="0" style="font-kerning:none" >b</text>
<text transform="matrix(0.20246,0,0,0.21175,488.548,42.692)" font-family="&quot;Liberation Serif&quot;, serif" font-size="100" fill="#000" stroke="#000" stroke-width="0" style="font-kerning:none" >)</text>
<g transform="matrix(0,-1,1,0,-275.8,294.4)"><text transform="matrix(0.26759,0,0,0.26179,109.310,297.421)" font-family="&quot;Liberation Serif&quot;, serif" font-size="100" fill="#000" stroke="#000" stroke-width="0.6" style="font-kerning:none" >R</text><text transform="matrix(0.22215,0,0,0.19944,129.760,301.405)" font-family="&quot;Liberation Serif&quot;, serif" font-size="100" fill="#111" stroke="#111" stroke-width="0" style="font-kerning:none" >MSO</text><text transform="matrix(0.17481,0,0,0.29988,191.656,298.397)" font-family="&quot;Liberation Serif&quot;, serif" font-size="100" fill="#000" stroke="#000" stroke-width="0.6" style="font-kerning:none" >[</text><text transform="matrix(0.26292,0,0,0.26179,198.222,297.421)" font-family="&quot;Liberation Serif&quot;, serif" font-size="100" fill="#000" stroke="#000" stroke-width="0.6" style="font-kerning:none" >R</text><text transform="matrix(0.22983,0,0,0.19090,216.238,300.900)" font-family="&quot;Liberation Serif&quot;, serif" font-size="100" fill="#111" stroke="#111" stroke-width="0" style="font-kerning:none" >M</text><text transform="matrix(0.17918,0,0,0.29988,238.908,298.397)" font-family="&quot;Liberation Serif&quot;, serif" font-size="100" fill="#000" stroke="#000" stroke-width="0.6" style="font-kerning:none" >]</text></g></g></svg></body></html>
